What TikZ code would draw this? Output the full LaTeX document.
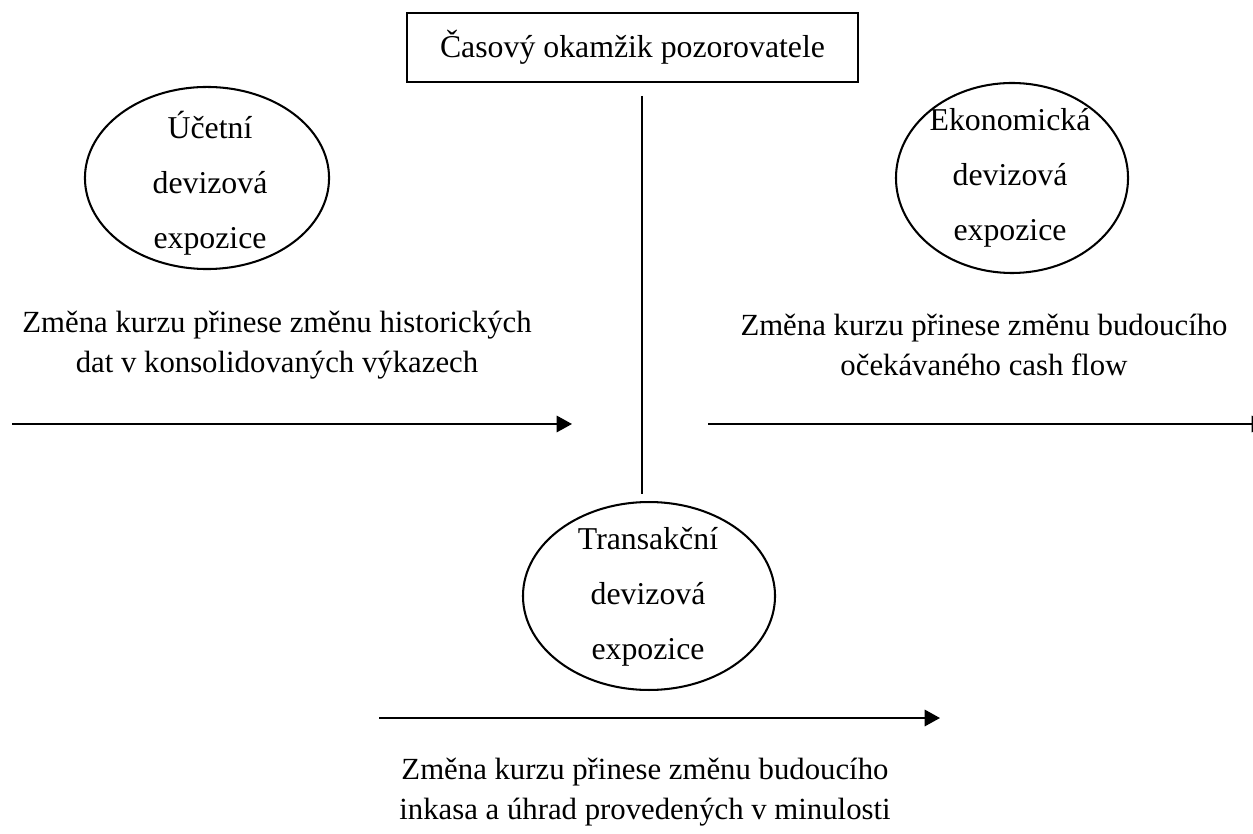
\documentclass[tikz,border=0pt]{standalone}
\usepackage{fontspec}
\setmainfont{Liberation Serif}
\usetikzlibrary{shapes.geometric,arrows.meta}
\tikzset{
  okno/.style={draw, line width=0.8pt, minimum width=175.9pt, minimum height=26.9pt, font=\fontsize{12.4}{14}\selectfont},
  expo/.style={draw, ellipse, line width=0.8pt, inner sep=0pt},
  expotext/.style={align=center, font=\fontsize{12.4}{21.5}\selectfont},
  popis/.style={align=center, font=\fontsize{12}{15.6}\selectfont},
  sipka/.style={line width=0.8pt, -{Triangle[length=6pt,width=6.4pt]}},
}
\begin{document}
\begin{tikzpicture}[x=0.39pt,y=-0.39pt]
\clip (0,0) rectangle (1253,834);
% pozorovatel
\node[okno] (casovy) at (632.5,47.5) {Časový okamžik pozorovatele};
\coordinate (osaA) at (642,96);
\coordinate (osaB) at (642,494);
\draw[line width=0.8pt] (osaA)--(osaB);
% expozice
\node[expo, minimum width=95.2pt, minimum height=71pt] (ucetni) at (207,178) {};
\node[expotext] (ucetniT) at (210,183) {Účetní\\devizová\\expozice};
\node[expo, minimum width=90.5pt, minimum height=74.1pt] (ekonomicka) at (1012,178) {};
\node[expotext] (ekonomickaT) at (1010,178) {Ekonomická\\devizová\\expozice};
\node[expo, minimum width=98.3pt, minimum height=73.3pt] (transakcni) at (649,596) {};
\node[expotext] (transakcniT) at (648,597) {Transakční\\devizová\\expozice};
% popisy
\node[popis] (ucetniP) at (277,345) {Změna kurzu přinese změnu historických\\dat v konsolidovaných výkazech};
\node[popis] (ekonomickaP) at (984,345) {Změna kurzu přinese změnu budoucího\\očekávaného cash flow};
\node[popis] (transakcniP) at (645,792) {Změna kurzu přinese změnu budoucího\\inkasa a úhrad provedených v minulosti};
% sipky
\coordinate (levaA) at (12,424);
\coordinate (levaB) at (572,424);
\coordinate (pravaA) at (708,424);
\coordinate (pravaB) at (1267,424);
\coordinate (dolniA) at (379,718);
\coordinate (dolniB) at (940,718);
\draw[sipka] (levaA)--(levaB);
\draw[sipka] (pravaA)--(pravaB);
\draw[sipka] (dolniA)--(dolniB);
\end{tikzpicture}
\end{document}
